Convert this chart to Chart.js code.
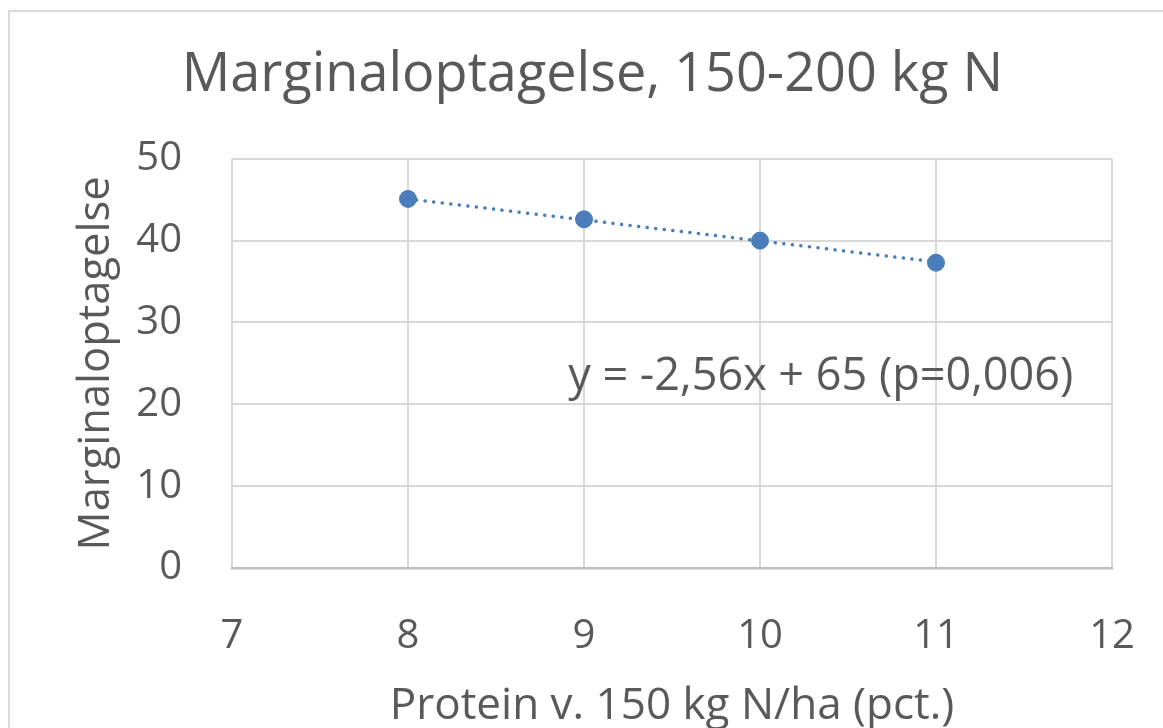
<!DOCTYPE html>
<html>
<head>
<meta charset="utf-8">
<script src="https://cdn.jsdelivr.net/npm/chart.js@4"></script>
<style>
  html, body { margin: 0; padding: 0; background: #fff; overflow: hidden; }
  #frame {
    position: absolute; left: 8px; top: 10px;
    width: 1300px; height: 900px;
    border: 2px solid #d9d9d9; box-sizing: border-box;
  }
  #wrap { position: absolute; left: 0; top: 0; width: 1163px; height: 728px; }
</style>
</head>
<body>
<div id="frame"></div>
<div id="wrap"><canvas id="myChart" width="1163" height="728"></canvas></div>
<script>
// values
const protein = [8, 9, 10, 11];
const marginal = [45.1, 42.6, 40.0, 37.3];
const trendX = [8, 11];
const trendY = [45.1, 37.4];
const xTicks = [7, 8, 9, 10, 11, 12];
const yTicks = [0, 10, 20, 30, 40, 50];
const equation = "y = -2,56x + 65 (p=0,006)";

const textColor = "#595959";
const blue = "#4a7ebb";
const fontFamily = "'Open Sans', sans-serif";

// draws the regression label inside the plot
const equationLabel = {
  id: "equationLabel",
  afterDatasetsDraw(chart) {
    const { ctx, scales } = chart;
    const x = scales.x.getPixelForValue(8.91);
    const y = scales.y.getPixelForValue(23.3);
    ctx.save();
    ctx.font = "45px " + fontFamily;
    ctx.fillStyle = textColor;
    ctx.textAlign = "left";
    ctx.textBaseline = "middle";
    ctx.fillText(equation, x, y);
    ctx.restore();
  },
};

const ctx = document.getElementById("myChart");

new Chart(ctx, {
  type: "scatter",
  data: {
    datasets: [
      {
        label: "Trend",
        data: trendX.map((x, i) => ({ x: x, y: trendY[i] })),
        showLine: true,
        borderColor: blue,
        borderWidth: 3.5,
        borderDash: [0.1, 8.5],
        borderCapStyle: "round",
        pointRadius: 0,
        order: 2,
      },
      {
        label: "Marginaloptagelse",
        data: protein.map((x, i) => ({ x: x, y: marginal[i] })),
        backgroundColor: blue,
        borderColor: blue,
        pointRadius: 8.5,
        order: 1,
      },
    ],
  },
  options: {
    responsive: false,
    animation: false,
    devicePixelRatio: 1,
    layout: {
      padding: { left: 73, right: 51, top: 0, bottom: -5 },
    },
    plugins: {
      legend: { display: false },
      tooltip: { enabled: false },
      title: {
        display: true,
        text: "Marginaloptagelse, 150-200 kg N",
        color: textColor,
        font: { family: fontFamily, size: 54, weight: "normal", lineHeight: 1.2 },
        padding: { top: 43, bottom: 51 },
      },
    },
    scales: {
      x: {
        type: "linear",
        min: 7,
        max: 12,
        afterBuildTicks: (scale) => {
          scale.ticks = xTicks.map((v) => ({ value: v }));
        },
        afterFit: (scale) => {
          scale.height = 165;
          // labels fit inside the layout padding
          scale.paddingLeft = 0;
          scale.paddingRight = 0;
        },
        grid: { color: "#d9d9d9", lineWidth: 2, drawTicks: false },
        border: { color: "#bfbfbf", width: 2.5 },
        ticks: {
          color: textColor,
          font: { family: fontFamily, size: 40 },
          padding: 45,
        },
        title: {
          display: true,
          text: "Protein v. 150 kg N/ha (pct.)",
          color: textColor,
          font: { family: fontFamily, size: 44, lineHeight: 1.2 },
          padding: 0,
        },
      },
      y: {
        type: "linear",
        min: 0,
        max: 50,
        afterBuildTicks: (scale) => {
          scale.ticks = yTicks.map((v) => ({ value: v }));
        },
        afterFit: (scale) => {
          scale.width = 159;
        },
        grid: { color: "#d9d9d9", lineWidth: 2, drawTicks: false },
        border: { display: false },
        ticks: {
          color: textColor,
          font: { family: fontFamily, size: 40 },
          padding: 50,
        },
        title: {
          display: true,
          text: "Marginaloptagelse",
          color: textColor,
          font: { family: fontFamily, size: 43.5, lineHeight: 1.1 },
          padding: 0,
        },
      },
    },
  },
  plugins: [equationLabel],
});
</script>
</body>
</html>
